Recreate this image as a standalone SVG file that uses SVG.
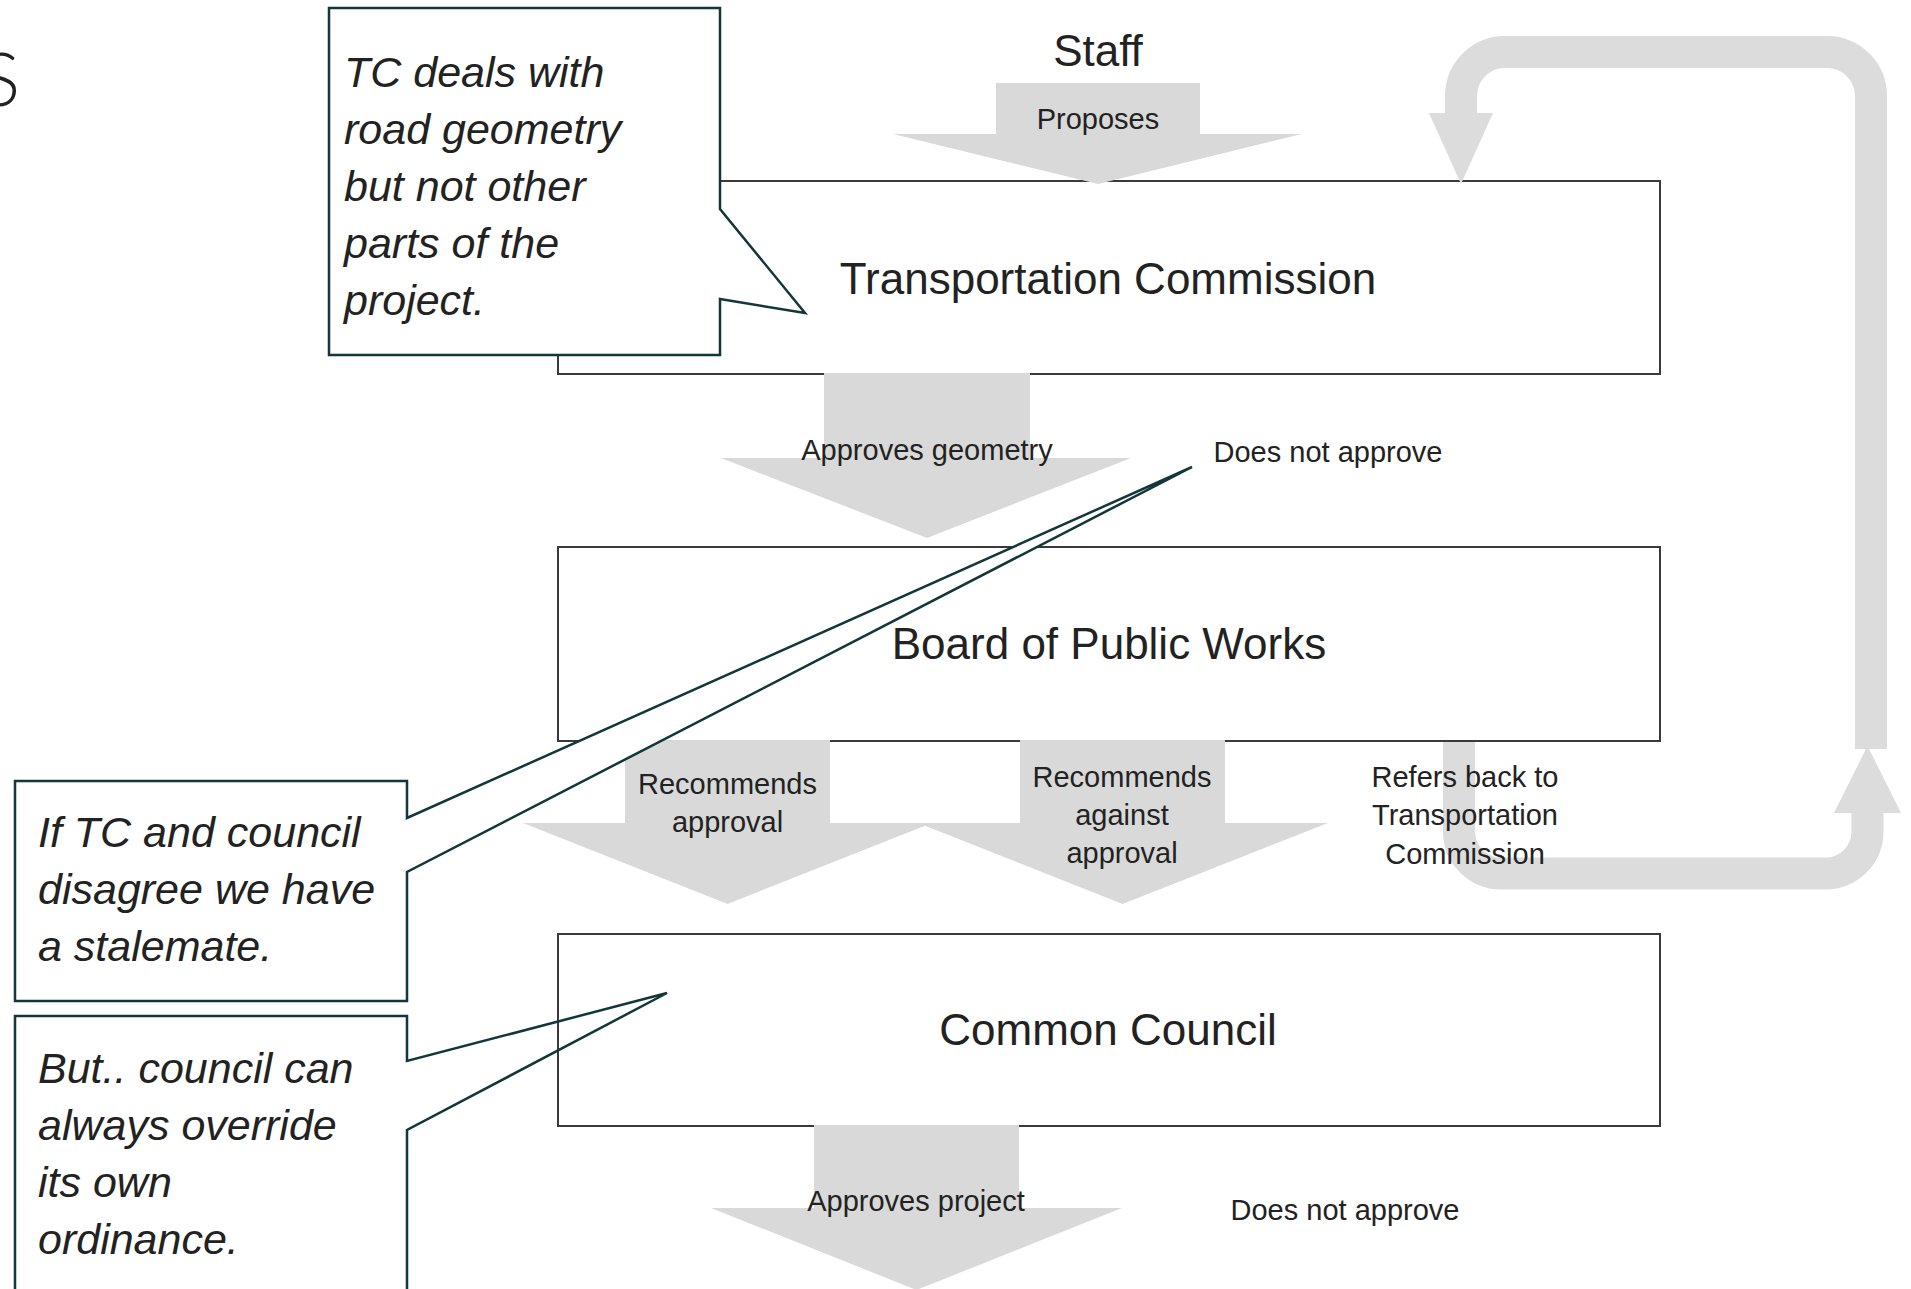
<svg xmlns="http://www.w3.org/2000/svg" width="1911" height="1289" viewBox="0 0 1911 1289">
<defs>
<style>
.box{fill:#ffffff;stroke:#3a3a3a;stroke-width:2}
.callout{stroke:#12363a;stroke-width:2.5;stroke-linejoin:miter}
.arrow{fill:#d9d9d9}
.loop{fill:none;stroke:#dcdcdc;stroke-width:32}
.loophead{fill:#dcdcdc}
.t{font-family:'Liberation Sans',Arial,sans-serif;fill:#222222}
.big{font-size:44px}
.small{font-size:29px}
.note{font-size:43px;font-style:italic}
.mid{text-anchor:middle}
</style>
</defs>
<rect width="1911" height="1289" fill="#ffffff"/>

<text id="title-fragment" class="t" x="20" y="106" style="font-family:Lato,'Liberation Sans',sans-serif;font-weight:300;font-size:74px;text-anchor:end">S</text>

<g id="node-tc">
<rect class="box" x="558" y="181" width="1102" height="193"/>
<text class="t big mid" x="1108" y="294">Transportation Commission</text>
</g>
<g id="node-bpw">
<rect class="box" x="558" y="547" width="1102" height="194"/>
<text class="t big mid" x="1109" y="659">Board of Public Works</text>
</g>
<g id="node-cc">
<rect class="box" x="558" y="934" width="1102" height="192" style="fill:none"/>
<text class="t big mid" x="1108" y="1045">Common Council</text>
</g>

<g id="connectors">
<text class="t big mid" x="1098" y="66">Staff</text>
<polygon class="arrow" points="996,83 1200,83 1200,134 1302,134 1098,184 893,134 996,134"/>
<text class="t small mid" x="1098" y="129">Proposes</text>

<polygon class="arrow" points="824,373 1030,373 1030,458 1131,458 927,538 721,458 824,458"/>
<text class="t small mid" x="927" y="460">Approves geometry</text>
<text class="t small mid" x="1328" y="462">Does not approve</text>

<polygon class="arrow" points="625,740 830,740 830,823 932,823 727.5,904 523,823 625,823"/>
<polygon class="arrow" points="1020,740 1225,740 1225,823 1328,823 1122.5,904 918,823 1020,823"/>
<text class="t small mid" x="727.5" y="794">Recommends</text>
<text class="t small mid" x="727.5" y="832">approval</text>
<text class="t small mid" x="1122" y="787">Recommends</text>
<text class="t small mid" x="1122" y="825">against</text>
<text class="t small mid" x="1122" y="863">approval</text>

<path class="loop" d="M1459,742 V831.5 A42,42 0 0 0 1501,873.5 H1825.5 A42,42 0 0 0 1867.5,831.5 V812"/>
<polygon class="loophead" points="1834,813 1901,813 1867.5,746"/>
<path class="loop" d="M1871,749 V96 A44,44 0 0 0 1827,52 H1505 A44,44 0 0 0 1461,96 V114"/>
<polygon class="loophead" points="1429,113 1493,113 1461,184"/>
<text class="t small mid" x="1465" y="787">Refers back to</text>
<text class="t small mid" x="1465" y="825">Transportation</text>
<text class="t small mid" x="1465" y="864">Commission</text>

<polygon class="arrow" points="814,1125 1019,1125 1019,1208 1122,1208 916.5,1290 711,1208 814,1208"/>
<text class="t small mid" x="916" y="1211">Approves project</text>
<text class="t small mid" x="1345" y="1220">Does not approve</text>
</g>

<g id="callout-tc">
<path class="callout" fill="#ffffff" d="M329,8 H720 V209 L805,313 L720,299 V355 H329 Z"/>
<text class="t note" x="344" y="87">TC deals with</text>
<text class="t note" x="344" y="144">road geometry</text>
<text class="t note" x="344" y="201">but not other</text>
<text class="t note" x="344" y="258">parts of the</text>
<text class="t note" x="344" y="315">project.</text>
</g>

<g id="callout-stalemate">
<path class="callout" fill="#ffffff" d="M15,781 H407 V818 L1192,467 L407,872 V1001 H15 Z"/>
<text class="t note" x="38" y="847">If TC and council</text>
<text class="t note" x="38" y="904">disagree we have</text>
<text class="t note" x="38" y="961">a stalemate.</text>
</g>

<g id="callout-override">
<path class="callout" fill="none" d="M15,1016 H407 V1061 L667,993 L407,1130 V1300 H15 Z"/>
<text class="t note" x="38" y="1083">But.. council can</text>
<text class="t note" x="38" y="1140">always override</text>
<text class="t note" x="38" y="1197">its own</text>
<text class="t note" x="38" y="1254">ordinance.</text>
</g>
</svg>
